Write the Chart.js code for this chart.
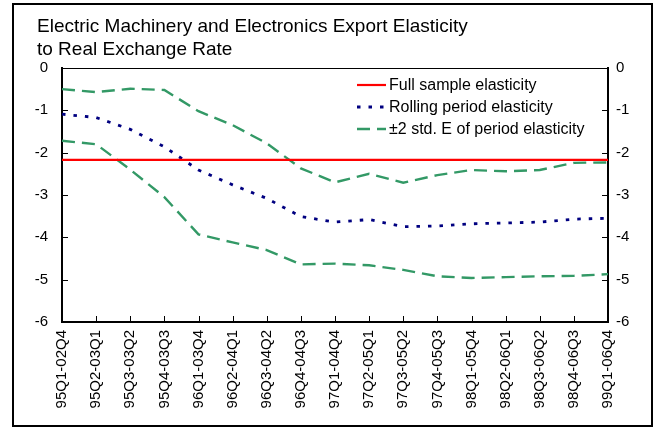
<!DOCTYPE html>
<html>
<head>
<meta charset="utf-8">
<script src="https://cdn.jsdelivr.net/npm/chart.js@4/dist/chart.umd.min.js"></script>
<style>
  html, body { margin: 0; padding: 0; background: #fff; }
  #wrap { position: relative; width: 662px; height: 430px; }
</style>
</head>
<body>
<div id="wrap"><canvas id="c" width="662" height="430"></canvas></div>
<script>
// ---- data ----
const categories = ["95Q1-02Q4","95Q2-03Q1","95Q3-03Q2","95Q4-03Q3","96Q1-03Q4","96Q2-04Q1","96Q3-04Q2","96Q4-04Q3","97Q1-04Q4","97Q2-05Q1","97Q3-05Q2","97Q4-05Q3","98Q1-05Q4","98Q2-06Q1","98Q3-06Q2","98Q4-06Q3","99Q1-06Q4"];
const fullSample = [-2.17,-2.17,-2.17,-2.17,-2.17,-2.17,-2.17,-2.17,-2.17,-2.17,-2.17,-2.17,-2.17,-2.17,-2.17,-2.17,-2.17];
const rolling = [-1.09,-1.17,-1.45,-1.86,-2.41,-2.76,-3.08,-3.51,-3.64,-3.58,-3.75,-3.73,-3.68,-3.66,-3.64,-3.57,-3.55];
const upperBand = [-0.50,-0.57,-0.49,-0.52,-1.02,-1.35,-1.78,-2.37,-2.70,-2.50,-2.71,-2.53,-2.41,-2.44,-2.41,-2.24,-2.23];
const lowerBand = [-1.72,-1.80,-2.40,-3.05,-3.93,-4.12,-4.30,-4.64,-4.62,-4.66,-4.77,-4.92,-4.96,-4.94,-4.92,-4.91,-4.87];
const yTicks = [0,-1,-2,-3,-4,-5,-6];
const titleLines = ["Electric Machinery and Electronics Export Elasticity","to Real Exchange Rate"];
const legendLabels = ["Full sample elasticity","Rolling period elasticity","\u00B12 std. E of period elasticity"];

const RED = "#FF0000", NAVY = "#000080", GREEN = "#339966";
const FONT = "Arial, 'Liberation Sans', sans-serif";

const decor = {
  id: "decor",
  afterDatasetsDraw(chart) {
    const ctx = chart.ctx, a = chart.chartArea;
    ctx.save();
    ctx.strokeStyle = "#000"; ctx.lineWidth = 1;
    ctx.beginPath(); ctx.moveTo(a.left, a.top + 0.5); ctx.lineTo(a.right, a.top + 0.5); ctx.stroke();
    const sx = chart.scales.x, sy = chart.scales.y, sy2 = chart.scales.y2;
    ctx.beginPath();
    sx.ticks.forEach((t, i) => {
      const px = Math.round(sx.getPixelForTick(i)) + 0.5;
      ctx.moveTo(px, a.bottom); ctx.lineTo(px, a.bottom - 6);
    });
    sy.ticks.forEach((t, i) => {
      const py = Math.round(sy.getPixelForTick(i)) + 0.5;
      ctx.moveTo(a.left, py); ctx.lineTo(a.left + 6, py);
    });
    sy2.ticks.forEach((t, i) => {
      const py = Math.round(sy2.getPixelForTick(i)) + 0.5;
      ctx.moveTo(a.right, py); ctx.lineTo(a.right - 6, py);
    });
    ctx.stroke();
    ctx.restore();
  },
  afterDraw(chart) {
    const ctx = chart.ctx;
    ctx.save();
    ctx.strokeStyle = "#000"; ctx.lineWidth = 2;
    ctx.strokeRect(13, 4, 639, 422);
    ctx.fillStyle = "#000";
    ctx.font = "19px " + FONT;
    ctx.textAlign = "left"; ctx.textBaseline = "alphabetic";
    ctx.fillText(titleLines[0], 37, 31.5);
    ctx.fillText(titleLines[1], 37, 55);
    const ds = chart.data.datasets;
    const items = [ds[0], ds[1], ds[2]];
    const rows = [85, 107, 129];
    ctx.font = "16px " + FONT;
    ctx.textBaseline = "middle";
    items.forEach((d, i) => {
      const y = rows[i];
      ctx.beginPath();
      ctx.strokeStyle = d.borderColor;
      ctx.lineWidth = d.borderWidth;
      ctx.setLineDash(d.borderDash || []);
      ctx.moveTo(357, y); ctx.lineTo(386, y);
      ctx.stroke();
      ctx.setLineDash([]);
      ctx.fillStyle = "#000";
      ctx.fillText(legendLabels[i], 389, y + 1);
    });
    ctx.restore();
  }
};

const tickFont = { family: FONT, size: 15 };

new Chart(document.getElementById("c"), {
  type: "line",
  data: {
    labels: categories,
    datasets: [
      { data: fullSample, borderColor: RED, borderWidth: 2.2, pointRadius: 0, fill: false, tension: 0, yAxisID: "y" },
      { data: rolling, borderColor: NAVY, borderWidth: 2.8, borderDash: [3.5, 8], pointRadius: 0, fill: false, tension: 0, yAxisID: "y" },
      { data: upperBand, borderColor: GREEN, borderWidth: 2.4, borderDash: [13, 7], pointRadius: 0, fill: false, tension: 0, yAxisID: "y" },
      { data: lowerBand, borderColor: GREEN, borderWidth: 2.4, borderDash: [13, 7], pointRadius: 0, fill: false, tension: 0, yAxisID: "y" }
    ]
  },
  options: {
    responsive: false,
    animation: false,
    devicePixelRatio: 1,
    layout: { padding: { top: 68, left: 0, right: 0, bottom: 0 } },
    plugins: { legend: { display: false }, title: { display: false }, tooltip: { enabled: false } },
    scales: {
      x: {
        type: "category",
        offset: false,
        grid: { display: true, drawOnChartArea: false, drawTicks: false },
        border: { display: true, color: "#000", width: 2 },
        ticks: { autoSkip: false, minRotation: 90, maxRotation: 90, padding: 8, color: "#000", font: tickFont },
        afterFit(s) { s.height = 108; }
      },
      y: {
        position: "left",
        min: Math.min(...yTicks), max: Math.max(...yTicks),
        grid: { display: true, drawOnChartArea: false, drawTicks: false },
        border: { display: true, color: "#000", width: 2 },
        ticks: { stepSize: 1, padding: 14, color: "#000", font: tickFont },
        afterFit(s) { s.width = 62; }
      },
      y2: {
        position: "right",
        min: Math.min(...yTicks), max: Math.max(...yTicks),
        grid: { display: true, drawOnChartArea: false, drawTicks: false },
        border: { display: true, color: "#000", width: 2 },
        ticks: { stepSize: 1, padding: 8, color: "#000", font: tickFont },
        afterFit(s) { s.width = 54; }
      }
    }
  },
  plugins: [decor]
});
</script>
</body>
</html>
